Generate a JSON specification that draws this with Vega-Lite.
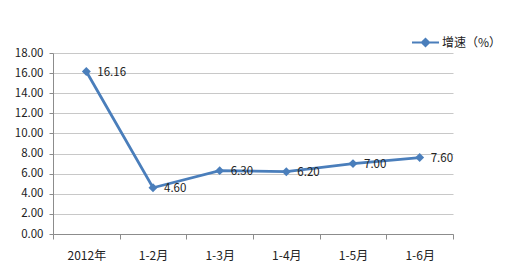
{
  "$schema": "https://vega.github.io/schema/vega-lite/v6.json",
  "width": 400,
  "height": 181,
  "autosize": "none",
  "padding": {"left": 53, "top": 53, "right": 67, "bottom": 30},
  "background": "white",
  "config": {
    "view": {"stroke": null},
    "font": "Noto Sans CJK SC",
    "axis": {"labelFont": "Noto Sans CJK SC", "labelFontSize": 11, "labelColor": "#222222", "domainColor": "#8C8C8C", "tickColor": "#8C8C8C", "gridColor": "#C8C8C8", "title": null}
  },
  "data": {
    "values": [
      {"period": "2012年", "value": 16.16, "series": "增速（%）"},
      {"period": "1-2月", "value": 4.60, "series": "增速（%）"},
      {"period": "1-3月", "value": 6.30, "series": "增速（%）"},
      {"period": "1-4月", "value": 6.20, "series": "增速（%）"},
      {"period": "1-5月", "value": 7.00, "series": "增速（%）"},
      {"period": "1-6月", "value": 7.60, "series": "增速（%）"}
    ]
  },
  "encoding": {
    "x": {
      "field": "period", "type": "nominal", "sort": null,
      "scale": {"paddingInner": 0, "paddingOuter": 0},
      "axis": {"labelAngle": 0, "labelFontSize": 12, "tickBand": "extent", "tickSize": 5, "labelPadding": 11, "grid": false, "domainWidth": 1}
    },
    "y": {
      "field": "value", "type": "quantitative",
      "scale": {"domain": [0, 18], "nice": false},
      "axis": {"values": [0, 2, 4, 6, 8, 10, 12, 14, 16, 18], "format": ".2f", "labelFontSize": 11.5, "tickSize": 4, "labelPadding": 6, "grid": true, "domain": true}
    }
  },
  "layer": [
    {
      "mark": {"type": "line", "strokeWidth": 2.8, "point": {"shape": "diamond", "size": 80, "filled": true}},
      "encoding": {
        "color": {
          "field": "series", "type": "nominal",
          "scale": {"range": ["#4A7EBB"]},
          "legend": {
            "title": null, "orient": "none", "legendX": 358, "legendY": -25,
            "symbolType": "M-1,0H1M-0.27,0L0,-0.27L0.27,0L0,0.27Z",
            "symbolSize": 729, "symbolStrokeWidth": 2, "symbolFillColor": "#4A7EBB", "symbolStrokeColor": "#4A7EBB",
            "labelFont": "Noto Sans CJK SC", "labelFontSize": 12, "labelColor": "#222222", "labelOffset": 2
          }
        }
      }
    },
    {
      "mark": {"type": "text", "align": "left", "baseline": "middle", "dx": 11, "dy": 1, "fontSize": 11.5, "color": "#222222", "font": "Noto Sans CJK SC"},
      "encoding": {"text": {"field": "value", "type": "quantitative", "format": ".2f"}}
    }
  ]
}
